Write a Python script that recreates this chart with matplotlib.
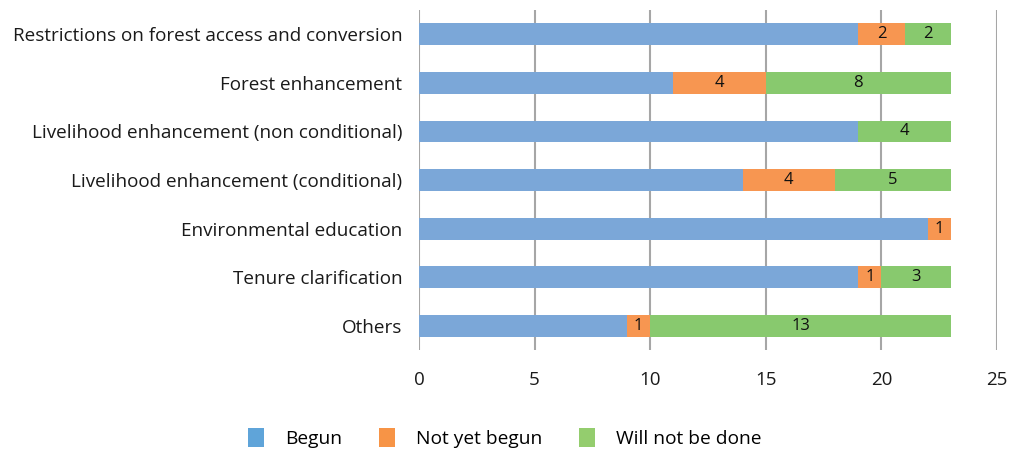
import matplotlib.pyplot as plt
from matplotlib.patches import Patch

categories = [
    "Restrictions on forest access and conversion",
    "Forest enhancement",
    "Livelihood enhancement (non conditional)",
    "Livelihood enhancement (conditional)",
    "Environmental education",
    "Tenure clarification",
    "Others",
]
begun = [19, 11, 19, 14, 22, 19, 9]
not_yet_begun = [2, 4, 0, 4, 1, 1, 1]
will_not_be_done = [2, 8, 4, 5, 0, 3, 13]
series_names = ["Begun", "Not yet begun", "Will not be done"]

bar_colors = ["#7BA7D8", "#F79651", "#88C96E"]
legend_colors = ["#5FA4D9", "#F79446", "#94CD6E"]

plt.rcParams["font.family"] = ["Open Sans", "DejaVu Sans"]

fig = plt.figure(figsize=(10.1, 4.5), dpi=100)
ax = fig.add_axes([419 / 1010, 100 / 450, 578 / 1010, 340 / 450])

y = list(range(len(categories)))
left = [0] * len(categories)
for vals, color in zip([begun, not_yet_begun, will_not_be_done], bar_colors):
    bars = ax.barh(y, vals, left=left, height=0.45, color=color, zorder=3)
    for i, (b, v) in enumerate(zip(bars, vals)):
        if v > 0 and color != bar_colors[0]:
            ax.text(left[i] + v / 2, i, str(v), ha="center", va="center",
                    fontsize=12, color="#111111", zorder=4)
    left = [l + v for l, v in zip(left, vals)]

ax.set_xlim(0, 25)
ax.set_ylim(len(categories) - 0.5, -0.5)
ax.set_xticks([0, 5, 10, 15, 20, 25])
ax.set_yticks(y)
ax.set_yticklabels(categories, fontsize=13.6, color="#1a1a1a")
ax.tick_params(axis="both", length=0, colors="#1a1a1a")
ax.tick_params(axis="x", labelsize=13.5, pad=15)
ax.tick_params(axis="y", pad=12)
for s in ax.spines.values():
    s.set_visible(False)
ax.grid(axis="x", color="#A6A6A6", linewidth=1.5, zorder=0)
ax.grid(axis="y", visible=False)

handles = [Patch(facecolor=c, edgecolor="none") for c in legend_colors]
fig.legend(handles, series_names, loc="center", bbox_to_anchor=(505 / 1010, 1 - 438 / 450),
           ncol=3, frameon=False, fontsize=13.8, handlelength=0.85, handleheight=1.1,
           handletextpad=1.1, columnspacing=1.9)

fig.savefig("out.png", dpi=100)
